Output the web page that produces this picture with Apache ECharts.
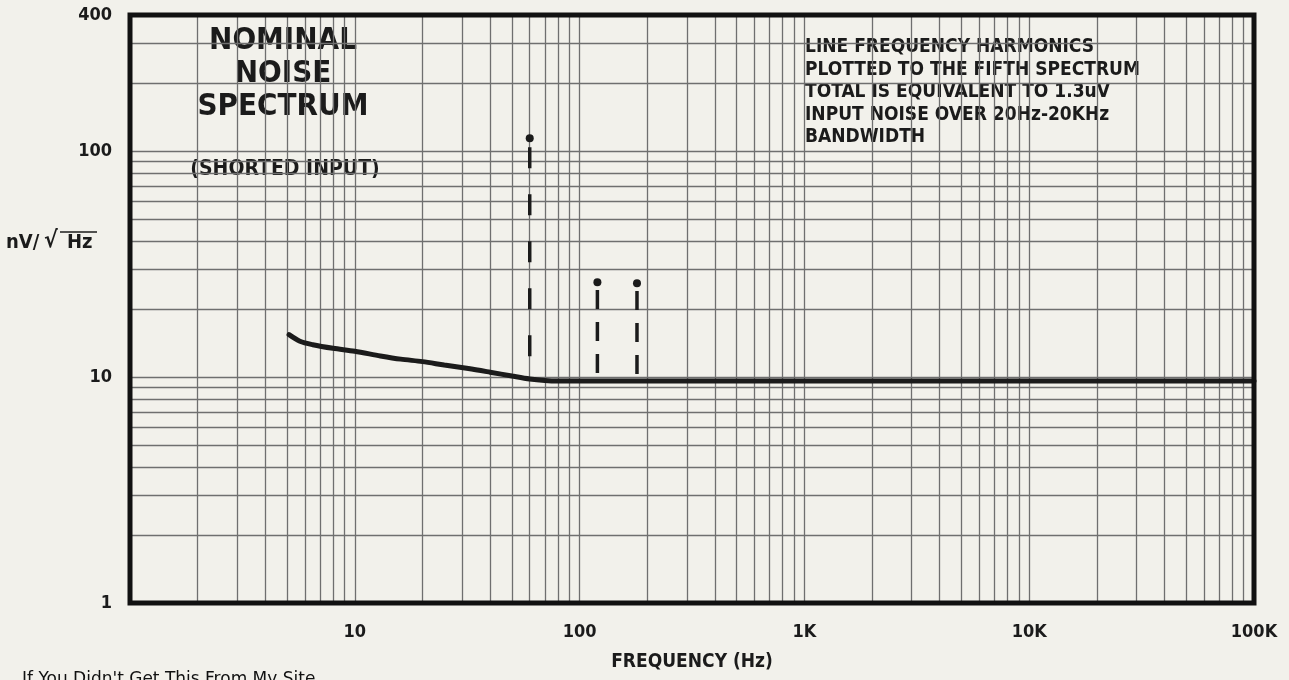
<!DOCTYPE html>
<html>
<head>
<meta charset="utf-8">
<script src="https://cdn.jsdelivr.net/npm/echarts@6/dist/echarts.min.js"></script>
<style>
html,body{margin:0;padding:0;background:#f2f1eb;}
#c{width:1289px;height:680px;}
</style>
</head>
<body>
<div id="c"></div>
<script>
// ---- data ----
const noiseFreq = [5.1, 5.7, 6.5, 8, 10, 13, 16, 20, 25, 32, 40, 50, 60, 70, 80, 100, 1000, 10000, 100000];
const noiseVal  = [15.4, 14.4, 13.9, 13.4, 13.0, 12.4, 12.0, 11.7, 11.3, 10.9, 10.5, 10.1, 9.8, 9.65, 9.6, 9.6, 9.6, 9.6, 9.6];
const harmFreq = [60, 120, 180];
const harmPeak = [114, 26.3, 26];
const harmDashTop = [104, 24.3, 24];
const harmDashBottom = [12.3, 9.6, 9.6];
const xTickLabels = [10, 100, 1000, 10000, 100000];
const xLabelText = {10:'10', 100:'100', 1000:'1K', 10000:'10K', 100000:'100K'};
const yTickLabels = [1, 10, 100, 400];
const xGrid = [];
[1, 10, 100, 1000, 10000].forEach(d => { for (let k = 1; k <= 9; k++) xGrid.push(k * d); });
xGrid.push(100000);
const yGrid = [];
[1, 10].forEach(d => { for (let k = 1; k <= 9; k++) yGrid.push(k * d); });
yGrid.push(100, 200, 300, 400);

const FONT = "'Liberation Sans Narrow', 'DejaVu Sans Condensed', 'Liberation Sans', sans-serif";
const INK = '#1b1b1b';
const GRIDC = '#6f6f6f';
const dashStyles = [[21, 26], [19, 13], [19, 13]];

const chart = echarts.init(document.getElementById('c'));

const series = [];
series.push({
  type: 'line',
  data: noiseFreq.map((f, i) => [f, noiseVal[i]]),
  smooth: 0.3,
  symbol: 'none',
  lineStyle: { color: INK, width: 5, cap: 'round' },
  z: 5
});
harmFreq.forEach((f, i) => {
  series.push({
    type: 'line',
    data: [[f, harmDashTop[i]], [f, harmDashBottom[i]]],
    symbol: 'none',
    lineStyle: { color: INK, width: 3.5, type: dashStyles[i] },
    z: 4
  });
});
series.push({
  type: 'scatter',
  data: harmFreq.map((f, i) => [f, harmPeak[i]]),
  symbol: 'circle',
  symbolSize: 8,
  itemStyle: { color: INK, opacity: 1 },
  z: 6
});

chart.setOption({
  backgroundColor: '#f2f1eb',
  animation: false,
  grid: {
    left: 130, right: 35, top: 15, bottom: 77, z: 10,
    show: true, borderColor: '#111', borderWidth: 5, backgroundColor: 'transparent'
  },
  xAxis: {
    type: 'log', logBase: 10, min: 1, max: 100000,
    name: 'FREQUENCY (Hz)', nameLocation: 'middle', nameGap: 50,
    nameTextStyle: { fontFamily: FONT, fontWeight: 'bold', fontSize: 19, color: INK },
    axisLine: { show: false },
    axisTick: { show: false, customValues: xGrid },
    splitLine: { show: true, lineStyle: { color: GRIDC, width: 1.3 } },
    axisLabel: {
      customValues: xTickLabels, margin: 20,
      fontFamily: FONT, fontWeight: 'bold', fontSize: 18, color: INK,
      formatter: v => xLabelText[v] || String(v)
    }
  },
  yAxis: {
    type: 'log', logBase: 10, min: 1, max: 400,
    axisLine: { show: false },
    axisTick: { show: false, customValues: yGrid },
    splitLine: { show: true, lineStyle: { color: GRIDC, width: 1.3 } },
    axisLabel: {
      customValues: yTickLabels, margin: 18,
      fontFamily: FONT, fontWeight: 'bold', fontSize: 18, color: INK
    }
  },
  graphic: [
    { type: 'text', x: 6, y: 233, style: { text: 'nV/', font: "bold 20px " + FONT, fill: INK } },
    { type: 'text', x: 44, y: 230, style: { text: '√', font: "bold 23px " + FONT, fill: INK } },
    { type: 'text', x: 67, y: 233, style: { text: 'Hz', font: "bold 20px " + FONT, fill: INK } },
    { type: 'line', shape: { x1: 60, y1: 232, x2: 97, y2: 232 }, style: { stroke: INK, lineWidth: 1.6 } },
    { type: 'text', x: 283, y: 24, style: { text: 'NOMINAL\nNOISE\nSPECTRUM', font: "bold 31px " + FONT, fill: INK, align: 'center', lineHeight: 33 } },
    { type: 'text', x: 285, y: 159, style: { text: '(SHORTED INPUT)', font: "bold 21px " + FONT, fill: INK, align: 'center' } },
    { type: 'text', x: 805, y: 36, style: { text: 'LINE FREQUENCY HARMONICS\nPLOTTED TO THE FIFTH SPECTRUM\nTOTAL IS EQUIVALENT TO 1.3uV\nINPUT NOISE OVER 20Hz-20KHz\nBANDWIDTH', font: "bold 19px " + FONT, fill: INK, lineHeight: 22.5 } },
    { type: 'text', x: 22, y: 671, style: { text: "If You Didn't Get This From My Site", font: "17px 'DejaVu Sans', sans-serif", fill: '#111' } }
  ],
  series: series
});
</script>
</body>
</html>
